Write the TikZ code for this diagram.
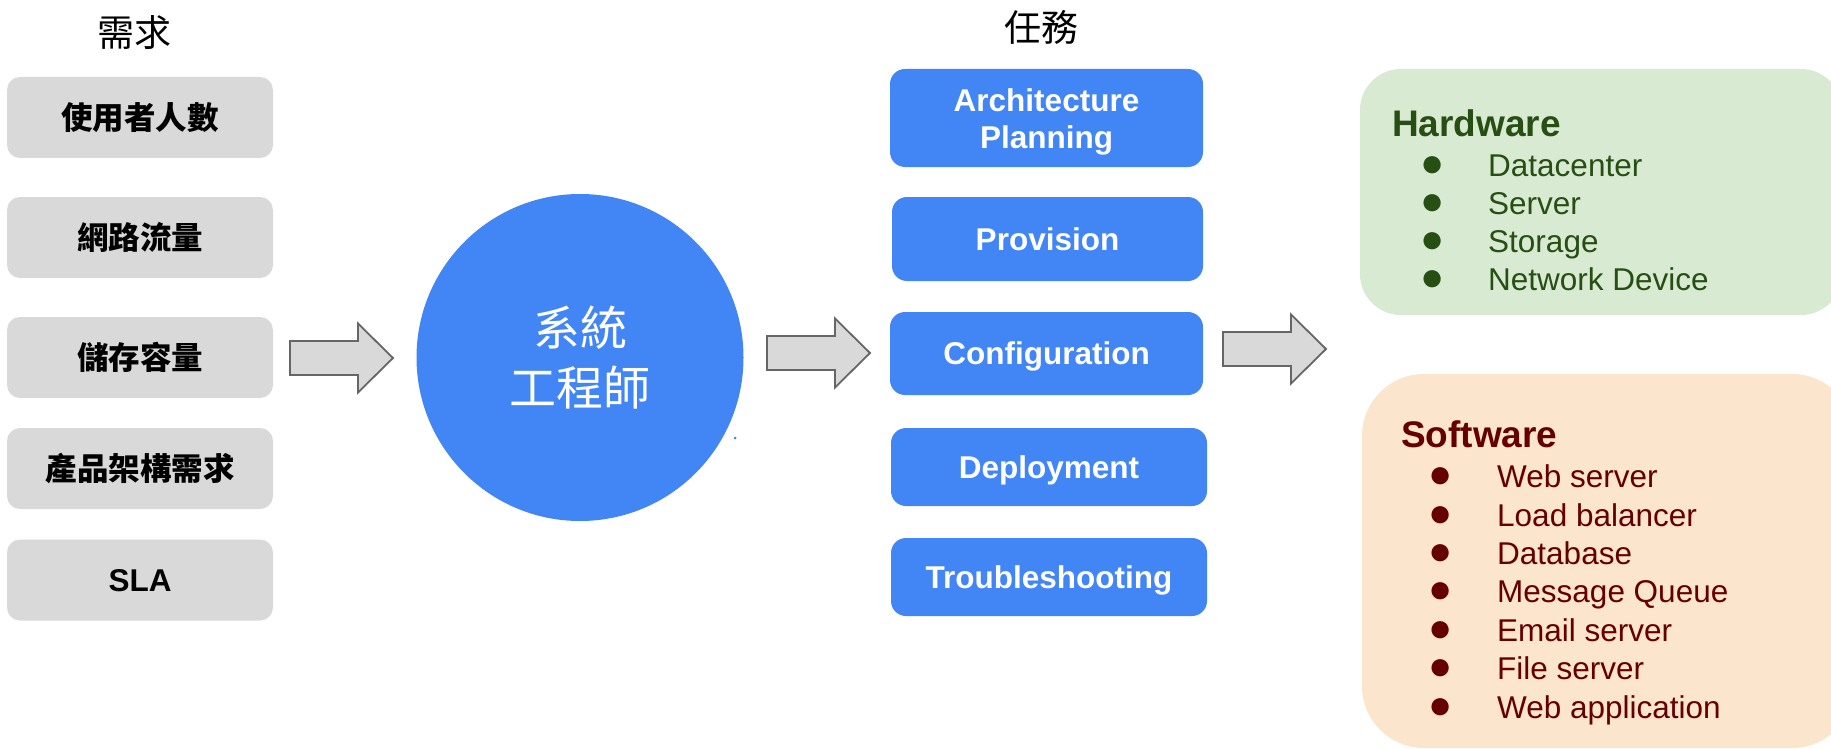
\documentclass[tikz,border=0pt]{standalone}
\usepackage{fontspec}
\setmainfont{Liberation Sans}
\newfontfamily\cjk{Noto Sans CJK TC}
\definecolor{boxgray}{HTML}{D9D9D9}
\definecolor{arrowline}{HTML}{666666}
\definecolor{gblue}{HTML}{4285F4}
\definecolor{hwfill}{HTML}{D9EAD3}
\definecolor{hwtext}{HTML}{274E13}
\definecolor{swfill}{HTML}{FCE5CD}
\definecolor{swtext}{HTML}{660000}
\tikzset{
  reqbox/.style={fill=boxgray, rounded corners=13pt, minimum width=266pt,
    minimum height=81pt, inner sep=0pt,
    font=\fontsize{31.5pt}{38pt}\selectfont\cjk\bfseries},
  slabox/.style={reqbox, font=\fontsize{31.5pt}{38pt}\selectfont\bfseries, text depth=0pt},
  taskbox/.style={fill=gblue, rounded corners=15pt, inner sep=0pt, text=white,
    font=\fontsize{31.5pt}{37pt}\selectfont\bfseries, text depth=0pt},
  tasklabel/.style={inner sep=0pt, text=white, align=center,
    font=\fontsize{31.5pt}{37pt}\selectfont\bfseries},
  title/.style={inner sep=0pt, font=\fontsize{37pt}{44pt}\selectfont\cjk},
  barrow/.pic={\draw[fill=boxgray, draw=arrowline, line width=1.8pt, line join=miter]
    (0,-17) -- (68,-17) -- (68,-34.5) -- (103,0) -- (68,34.5) -- (68,17) -- (0,17) -- cycle;},
  hwhead/.style={inner sep=0pt, anchor=base west, text=hwtext,
    font=\fontsize{37pt}{44pt}\selectfont\bfseries},
  hwitem/.style={inner sep=0pt, anchor=base west, text=hwtext,
    font=\fontsize{31.5pt}{38pt}\selectfont},
  hwbul/.style={inner sep=0pt, anchor=center, text=hwtext,
    font=\fontsize{40pt}{44pt}\selectfont},
  swhead/.style={hwhead, text=swtext},
  switem/.style={hwitem, text=swtext},
  swbul/.style={hwbul, text=swtext},
}
\begin{document}
\begin{tikzpicture}[x=1pt,y=-1pt]
\useasboundingbox (0,0) rectangle (1831,749);
\fill[white] (0,0) rectangle (1831,749);

% titles
\node[title] (tq) at (134,33) {需求};
\node[title] (tt) at (1041,27) {任務};

% requirement boxes
\node[reqbox] (r1) at (140,117.5) {使用者人數};
\node[reqbox] (r2) at (140,237.5) {網路流量};
\node[reqbox] (r3) at (140,357.5) {儲存容量};
\node[reqbox] (r4) at (140,468.5) {產品架構需求};
\node[slabox] (r5) at (140,580) {SLA};

% arrows
\pic at (290,358) {barrow};
\pic at (767,353) {barrow};
\pic at (1223,349) {barrow};

% system engineer circle
\node[circle, fill=gblue, minimum size=327pt, inner sep=0pt, text=white, align=center,
  font=\fontsize{47pt}{60pt}\selectfont\cjk] (se) at (580,357.5) {系統\\工程師};
\fill[gblue] (735,438) circle (1.5);

% task boxes
\node[taskbox, minimum width=313pt, minimum height=98pt] (k1) at (1046.5,118) {};
\node[tasklabel] (k1l) at (1046.5,121.5) {Architecture\\Planning};
\node[taskbox, minimum width=311pt, minimum height=84pt] (k2) at (1047.5,239) {Provision};
\node[taskbox, minimum width=313pt, minimum height=83pt] (k3) at (1046.5,353.5) {Configuration};
\node[taskbox, minimum width=316pt, minimum height=78pt] (k4) at (1049,467) {Deployment};
\node[taskbox, minimum width=316pt, minimum height=78pt] (k5) at (1049,577) {Troubleshooting};

% hardware box
\node[fill=hwfill, rounded corners=41pt, minimum width=482pt, minimum height=246pt,
  inner sep=0pt] (hw) at (1601,192) {};
\node[hwhead] (hwh) at (1392,136) {Hardware};
\node[hwbul] (hb1) at (1433,167) {●};
\node[hwbul] (hb2) at (1433,205) {●};
\node[hwbul] (hb3) at (1433,243) {●};
\node[hwbul] (hb4) at (1433,281) {●};
\node[hwitem] (hi1) at (1488,176) {Datacenter};
\node[hwitem] (hi2) at (1488,214) {Server};
\node[hwitem] (hi3) at (1488,252) {Storage};
\node[hwitem] (hi4) at (1488,290) {Network Device};

% software box
\node[fill=swfill, rounded corners=62pt, minimum width=492pt, minimum height=374pt,
  inner sep=0pt] (sw) at (1608,561) {};
\node[swhead] (swh) at (1401,447) {Software};
\node[swbul] (sb1) at (1441,478) {●};
\node[swbul] (sb2) at (1441,517) {●};
\node[swbul] (sb3) at (1441,555) {●};
\node[swbul] (sb4) at (1441,593) {●};
\node[swbul] (sb5) at (1441,632) {●};
\node[swbul] (sb6) at (1441,670) {●};
\node[swbul] (sb7) at (1441,709) {●};
\node[switem] (si1) at (1497,487) {Web server};
\node[switem] (si2) at (1497,526) {Load balancer};
\node[switem] (si3) at (1497,564) {Database};
\node[switem] (si4) at (1497,602) {Message Queue};
\node[switem] (si5) at (1497,641) {Email server};
\node[switem] (si6) at (1497,679) {File server};
\node[switem] (si7) at (1497,718) {Web application};
\end{tikzpicture}
\end{document}
